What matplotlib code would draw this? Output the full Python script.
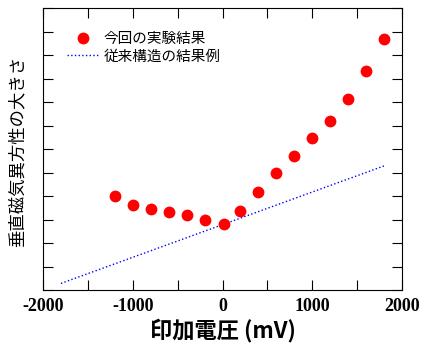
import matplotlib
matplotlib.use("Agg")
import matplotlib.pyplot as plt
from matplotlib.ticker import MultipleLocator

plt.rcParams['font.family'] = ['Noto Sans CJK JP', 'DejaVu Sans']

# measured points (this work)
volt = [-1200, -1000, -800, -600, -400, -200, 20, 200, 400, 600, 800, 1000, 1200, 1400, 1600, 1800]
pma = [2.00, 1.81, 1.72, 1.66, 1.60, 1.49, 1.40, 1.68, 2.08, 2.49, 2.85, 3.23, 3.60, 4.07, 4.66, 5.33]

# conventional structure example
ref_volt = [-1800, 1800]
ref_pma = [0.14, 2.64]

fig = plt.figure(figsize=(4.3, 3.5), dpi=100)
ax = fig.add_axes([43 / 430, 60 / 350, 359 / 430, 282 / 350])

ax.plot(ref_volt, ref_pma, color="blue", linestyle=":", linewidth=1.0, label="従来構造の結果例")
ax.plot(volt, pma, "o", color="red", markersize=8.5, markeredgewidth=0, label="今回の実験結果")

ax.set_xlim(-2000, 2000)
ax.set_ylim(0, 6)
ax.xaxis.set_minor_locator(MultipleLocator(500))
ax.yaxis.set_major_locator(MultipleLocator(1))
ax.yaxis.set_minor_locator(MultipleLocator(0.5))
ax.tick_params(which="both", direction="in", top=True, right=True, labelleft=False,
               length=7, width=0.8)
ax.tick_params(axis="x", pad=6)
ax.set_xticks([-2000, -1000, 0, 1000, 2000])
ax.set_xticklabels(["-2000", "-1000", "0", "1000", "2000"], fontfamily="Liberation Serif",
                   fontweight="bold", fontsize=13)
for s in ax.spines.values():
    s.set_linewidth(0.8)

ax.set_xlabel("印加電圧 (mV)", fontsize=16, fontweight="bold", labelpad=2)
ax.set_ylabel("垂直磁気異方性の大きさ", fontsize=12.5)
ax.yaxis.set_label_coords(-0.045, 0.49)

h, l = ax.get_legend_handles_labels()
ax.legend(h[::-1], l[::-1], loc="upper left", bbox_to_anchor=(0.03, 0.962), frameon=False,
          fontsize=10.5, handlelength=2.2, handletextpad=0.3, labelspacing=0.25)

fig.savefig("out.png", dpi=100)
